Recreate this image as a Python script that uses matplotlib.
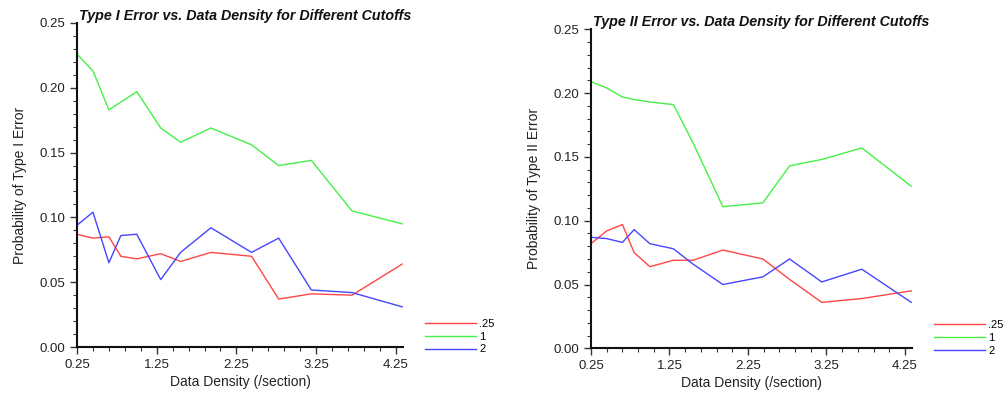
import numpy as np
import matplotlib
matplotlib.use('Agg')
import matplotlib.pyplot as plt
from matplotlib.ticker import MultipleLocator, FixedLocator

plt.rcParams['font.family'] = ['Liberation Sans', 'DejaVu Sans']

density = [0.25, 0.45, 0.65, 0.8, 1.0, 1.3, 1.55, 1.93, 2.44, 2.78, 3.19, 3.7, 4.33]
cutoffs = ['.25', '1', '2']

# Type I error per cutoff
type1_025 = [0.087, 0.084, 0.085, 0.070, 0.068, 0.072, 0.066, 0.073, 0.070, 0.037, 0.041, 0.040, 0.064]
type1_1 = [0.226, 0.213, 0.183, 0.189, 0.197, 0.169, 0.158, 0.169, 0.156, 0.140, 0.144, 0.105, 0.095]
type1_2 = [0.094, 0.104, 0.065, 0.086, 0.087, 0.052, 0.073, 0.092, 0.073, 0.084, 0.044, 0.042, 0.031]

# Type II error per cutoff
type2_025 = [0.082, 0.092, 0.097, 0.075, 0.064, 0.069, 0.069, 0.077, 0.070, 0.054, 0.036, 0.039, 0.045]
type2_1 = [0.209, 0.204, 0.197, 0.195, 0.193, 0.191, 0.161, 0.111, 0.114, 0.143, 0.148, 0.157, 0.127]
type2_2 = [0.087, 0.086, 0.083, 0.093, 0.082, 0.078, 0.066, 0.050, 0.056, 0.070, 0.052, 0.062, 0.036]

colors = ['#ff4646', '#46f046', '#4646ff']
txt = '#222222'

fig = plt.figure(figsize=(10.08, 3.95), dpi=100)
ax1 = fig.add_axes([0.0764, 0.1215, 0.3234, 0.8203])
ax2 = fig.add_axes([0.5863, 0.1182, 0.3185, 0.8076])

panels = [
    (ax1, [type1_025, type1_1, type1_2], 'Type I Error vs. Data Density for Different Cutoffs',
     'Probability of Type I Error'),
    (ax2, [type2_025, type2_1, type2_2], 'Type II Error vs. Data Density for Different Cutoffs',
     'Probability of Type II Error'),
]

for ax, series, title, ylab in panels:
    for vals, c, lab in zip(series, colors, cutoffs):
        ax.plot(density, vals, color=c, lw=1.0, label=lab)
    ax.set_xlim(0.25, 4.34)
    ax.set_ylim(0, 0.25)
    ax.xaxis.set_major_locator(FixedLocator([0.25, 1.25, 2.25, 3.25, 4.25]))
    ax.xaxis.set_minor_locator(FixedLocator(np.arange(0.25, 4.34, 0.2)))
    ax.yaxis.set_major_locator(MultipleLocator(0.05))
    ax.yaxis.set_minor_locator(MultipleLocator(0.01))
    ax.xaxis.set_major_formatter(matplotlib.ticker.FormatStrFormatter('%.2f'))
    ax.yaxis.set_major_formatter(matplotlib.ticker.FormatStrFormatter('%.2f'))
    ax.spines['top'].set_visible(False)
    ax.spines['right'].set_visible(False)
    for s in ['left', 'bottom']:
        ax.spines[s].set_linewidth(1.5)
        ax.spines[s].set_color('#111111')
    ax.tick_params(which='major', length=5, width=1, colors='#333333', labelcolor=txt, labelsize=9.5)
    ax.tick_params(which='minor', length=3, width=0.8, colors='#333333')
    ax.set_xlabel('Data Density (/section)', fontsize=10, color=txt, labelpad=3)
    ax.set_ylabel(ylab, fontsize=10, color=txt, labelpad=9)
    ax.set_title(title, loc='left', fontsize=10.3, fontweight='bold', fontstyle='italic',
                 color='#111111', pad=2, x=0.005)
    ax.legend(loc='lower left', bbox_to_anchor=(1.05, -0.04), frameon=False, fontsize=8,
              handlelength=4.6, handletextpad=0.3, labelspacing=0.25, borderpad=0)

fig.savefig('out.png', dpi=100)
